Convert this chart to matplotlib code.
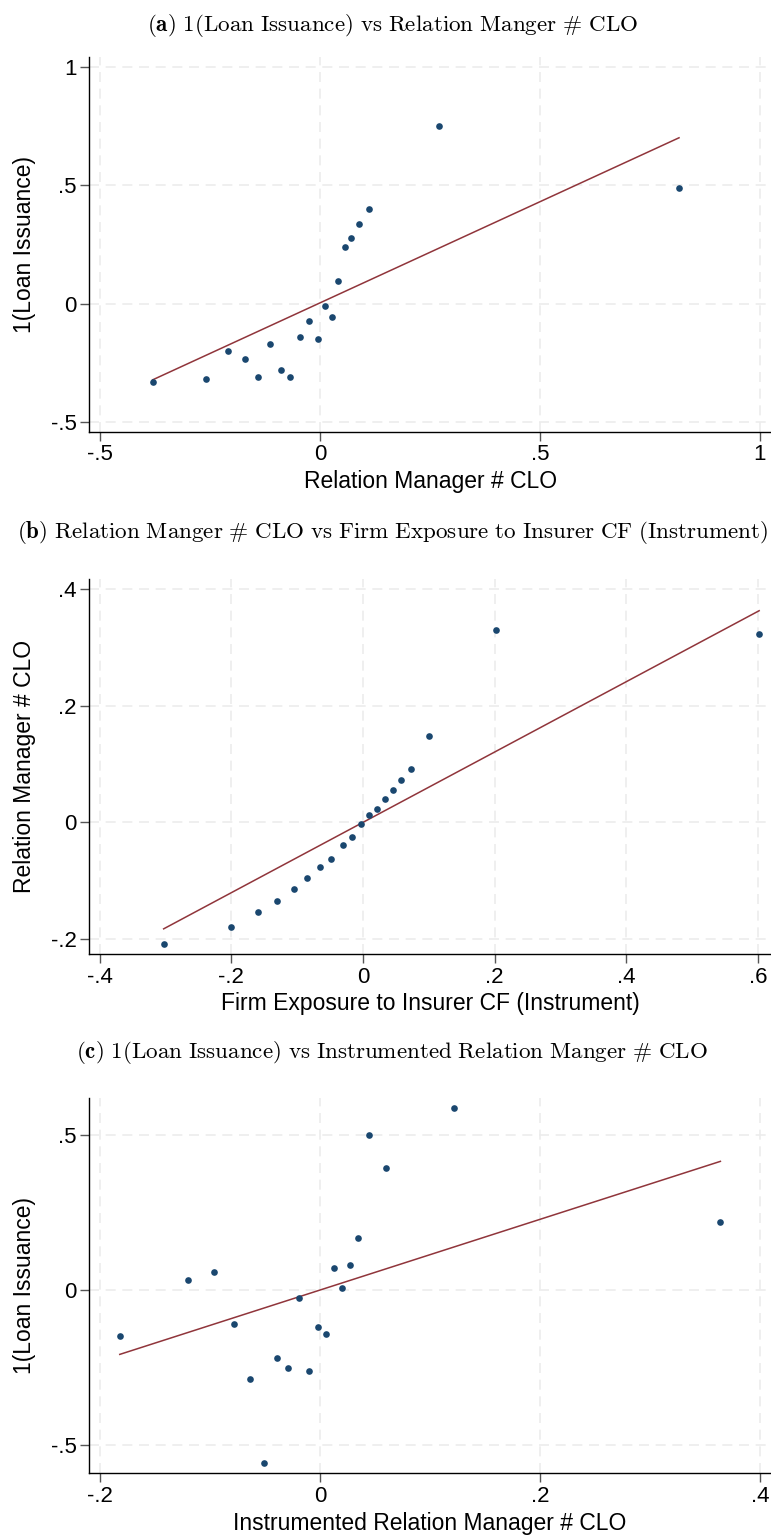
import numpy as np
import matplotlib
matplotlib.use("Agg")
import matplotlib.pyplot as plt

plt.rcParams['mathtext.fontset'] = 'cm'

# panel (a): 1(Loan Issuance) vs Relation Manager # CLO
xa = [-0.380, -0.258, -0.208, -0.171, -0.140, -0.113, -0.089, -0.067, -0.045, -0.024,
      -0.005, 0.012, 0.028, 0.042, 0.057, 0.071, 0.088, 0.111, 0.270, 0.816]
ya = [-0.329, -0.317, -0.201, -0.235, -0.312, -0.172, -0.280, -0.310, -0.139, -0.074,
      -0.148, -0.010, -0.058, 0.097, 0.241, 0.276, 0.335, 0.400, 0.750, 0.489]

# panel (b): Relation Manager # CLO vs Firm Exposure to Insurer CF
xb = [-0.303, -0.200, -0.159, -0.130, -0.105, -0.085, -0.065, -0.048, -0.031, -0.017,
      -0.003, 0.009, 0.021, 0.033, 0.045, 0.058, 0.073, 0.100, 0.202, 0.602]
yb = [-0.209, -0.179, -0.154, -0.135, -0.114, -0.096, -0.077, -0.063, -0.038, -0.025,
      -0.003, 0.0125, 0.023, 0.040, 0.056, 0.072, 0.092, 0.147, 0.330, 0.323]

# panel (c): 1(Loan Issuance) vs Instrumented Relation Manager # CLO
xc = [-0.182, -0.120, -0.096, -0.078, -0.064, -0.051, -0.039, -0.029, -0.019, -0.010,
      -0.002, 0.0055, 0.0127, 0.020, 0.0276, 0.035, 0.0445, 0.060, 0.122, 0.364]
yc = [-0.148, 0.034, 0.059, -0.110, -0.287, -0.559, -0.218, -0.252, -0.027, -0.261,
      -0.120, -0.142, 0.072, 0.006, 0.0795, 0.169, 0.4995, 0.392, 0.587, 0.219]

# fitted lines
fit_slope = [0.855, 0.602, 1.14]
fit_icept = [0.003, 0.0, 0.0]

titles = ["1(Loan Issuance) vs Relation Manger # CLO",
          "Relation Manger # CLO vs Firm Exposure to Insurer CF (Instrument)",
          "1(Loan Issuance) vs Instrumented Relation Manger # CLO"]
tags = ["(a)", "(b)", "(c)"]
xlabels = ["Relation Manager # CLO", "Firm Exposure to Insurer CF (Instrument)",
           "Instrumented Relation Manager # CLO"]
ylabels = ["1(Loan Issuance)", "Relation Manager # CLO", "1(Loan Issuance)"]

xticks = [[-0.5, 0, 0.5, 1], [-0.4, -0.2, 0, 0.2, 0.4, 0.6], [-0.2, 0, 0.2, 0.4]]
xticklabels = [["-.5", "0", ".5", "1"], ["-.4", "-.2", "0", ".2", ".4", ".6"],
               ["-.2", "0", ".2", ".4"]]
yticks = [[-0.5, 0, 0.5, 1], [-0.2, 0, 0.2, 0.4], [-0.5, 0, 0.5]]
yticklabels = [["-.5", "0", ".5", "1"], ["-.2", "0", ".2", ".4"], ["-.5", "0", ".5"]]

xlims = [(-0.524, 1.025), (-0.416, 0.620), (-0.2097, 0.41)]
ylims = [(-0.542, 1.042), (-0.2255, 0.4166), (-0.591, 0.618)]

navy = '#1a476f'
maroon = '#90353b'
sans = ['Liberation Sans', 'DejaVu Sans']

fig = plt.figure(figsize=(7.71, 15.36), dpi=100)

bottoms = [0.7188, 0.3789, 0.0408]
title_y = [1 - 25.5/1536, 1 - 532/1536, 1 - 1052/1536]
data = [(xa, ya), (xb, yb), (xc, yc)]

def to_math(s):
    return s.replace(' ', r'\ ').replace('#', r'\#')

for i in range(3):
    ax = fig.add_axes([89.3/771, bottoms[i], 1 - 89.3/771, 0.2441])
    x, y = data[i]
    xs = np.array([min(x), max(x)])
    ax.plot(xs, fit_icept[i] + fit_slope[i]*xs, color=maroon, lw=1.1, zorder=2)
    ax.plot(x, y, 'o', color=navy, ms=4.8, mec='none', zorder=3)

    ax.set_xlim(*xlims[i])
    ax.set_ylim(*ylims[i])
    ax.set_xticks(xticks[i])
    ax.set_xticklabels(xticklabels[i], family=sans, fontsize=16)
    ax.set_yticks(yticks[i])
    ax.set_yticklabels(yticklabels[i], family=sans, fontsize=16)
    ax.tick_params(direction='out', length=6.5, width=1, color='#555555', pad=2.5)
    ax.grid(True, ls=(0, (6, 4)), color='#ececec', lw=1.2)
    ax.set_axisbelow(True)
    for s in ['top', 'right']:
        ax.spines[s].set_visible(False)
    ax.spines['left'].set_linewidth(1.0)
    ax.spines['bottom'].set_linewidth(1.0)

    ax.set_xlabel(xlabels[i], family=sans, fontsize=16.5, labelpad=3.5)
    ax.set_ylabel(ylabels[i], family=sans, fontsize=16.5)
    ax.yaxis.set_label_coords(-0.078, 0.5)

    fig.text(0.509, title_y[i],
             r'$\mathbf{' + tags[i] + r'}\ \mathrm{' + to_math(titles[i]) + '}$',
             ha='center', va='center', fontsize=16.6)

fig.savefig('out.png', dpi=100)
